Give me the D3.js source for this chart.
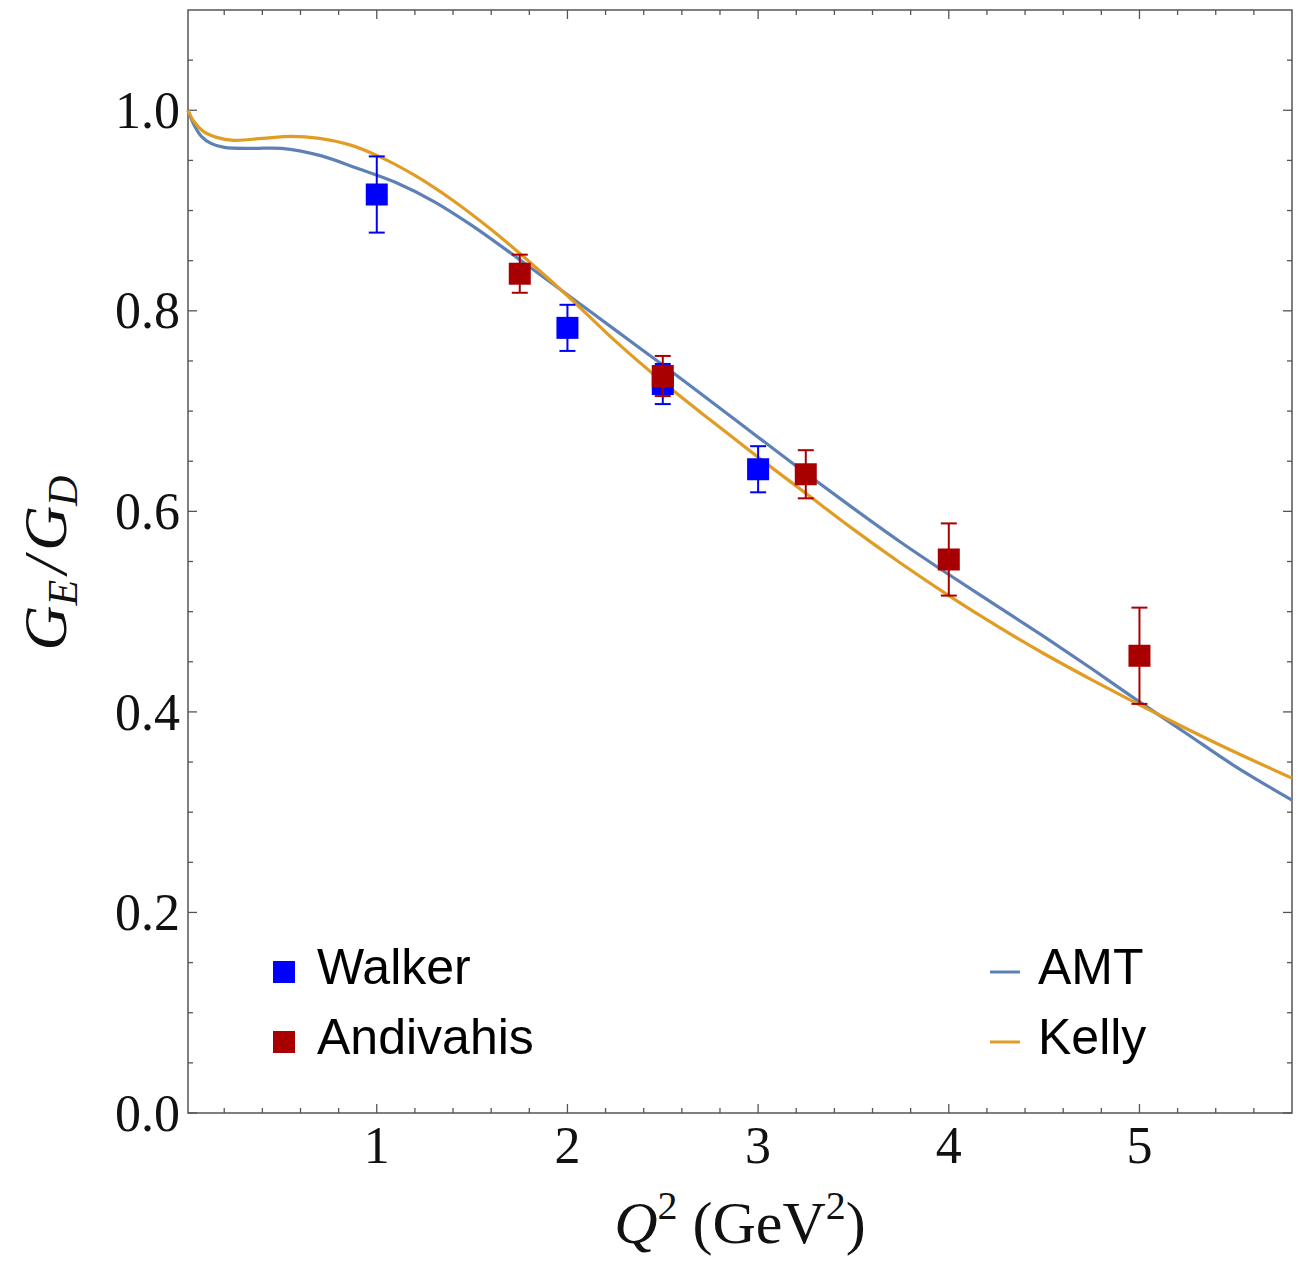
<!DOCTYPE html>
<html>
<head>
<meta charset="utf-8">
<script src="https://cdn.jsdelivr.net/npm/d3@7"></script>
<style>
  html, body { margin: 0; padding: 0; background: #fff; }
  svg { display: block; }
</style>
</head>
<body>
<svg id="chart" width="1302" height="1264"></svg>
<script>
// Proton G_E/G_D ratio: Rosenbluth data sets and two fits

// Walker data
const walkerQ2 = [1.0, 2.0, 2.5, 3.0];
const walkerR = [0.916, 0.783, 0.727, 0.642];
const walkerErr = [0.038, 0.023, 0.020, 0.023];

// Andivahis data
const andivQ2 = [1.75, 2.5, 3.25, 4.0, 5.0];
const andivR = [0.837, 0.735, 0.637, 0.552, 0.456];
const andivErr = [0.019, 0.020, 0.024, 0.036, 0.048];

// AMT fit curve samples
const amtQ2 = [0.01, 0.04, 0.08, 0.13, 0.2, 0.35, 0.5, 0.7, 0.9, 1.1, 1.3, 1.5, 1.75, 2.0, 2.25, 2.5, 2.75, 3.0, 3.25, 3.5, 3.75, 4.0, 4.25, 4.5, 4.75, 5.0, 5.25, 5.5, 5.8];
const amtR = [1.0, 0.986, 0.974, 0.967, 0.963, 0.962, 0.962, 0.955, 0.942, 0.928, 0.909, 0.885, 0.851, 0.816, 0.781, 0.746, 0.710, 0.674, 0.638, 0.603, 0.569, 0.537, 0.506, 0.475, 0.443, 0.410, 0.378, 0.346, 0.312];

// Kelly fit curve samples
const kellyQ2 = [0.01, 0.04, 0.09, 0.16, 0.25, 0.4, 0.55, 0.7, 0.85, 1.0, 1.2, 1.4, 1.6, 1.8, 2.0, 2.25, 2.5, 2.75, 3.0, 3.25, 3.5, 3.75, 4.0, 4.25, 4.5, 4.75, 5.0, 5.25, 5.5, 5.8];
const kellyR = [1.0, 0.989, 0.979, 0.973, 0.970, 0.972, 0.974, 0.972, 0.966, 0.955, 0.935, 0.910, 0.881, 0.849, 0.815, 0.770, 0.729, 0.691, 0.654, 0.618, 0.582, 0.548, 0.516, 0.486, 0.458, 0.432, 0.407, 0.383, 0.360, 0.334];

// Axis ticks
const xMajor = [1, 2, 3, 4, 5];
const xMajorLabels = ["1", "2", "3", "4", "5"];
const yMajor = [0, 0.2, 0.4, 0.6, 0.8, 1.0];
const yMajorLabels = ["0.0", "0.2", "0.4", "0.6", "0.8", "1.0"];

const colWalker = "#0000ff";
const colAndiv = "#a80000";
const colAMT = "#5e81b5";
const colKelly = "#e19c24";

const svg = d3.select("#chart");
const pLeft = 188, pRight = 1292, pTop = 10, pBottom = 1113;

const x = d3.scaleLinear().domain([0.01, 5.8]).range([pLeft, pRight]);
const y = d3.scaleLinear().domain([0, 1.1]).range([pBottom, pTop]);

const serif = "'Liberation Serif', 'Times New Roman', serif";
const sans = "'Liberation Sans', Arial, sans-serif";

// minor tick positions
const xMinor = d3.range(0.2, 5.8, 0.2).map(v => +v.toFixed(2)).filter(v => Math.abs(v - Math.round(v)) > 1e-6);
const yMinor = d3.range(0.05, 1.1, 0.05).map(v => +v.toFixed(2)).filter(v => Math.abs(v / 0.2 - Math.round(v / 0.2)) > 1e-6);

const frameCol = "#555";
const g = svg.append("g");

// tick marks on all four sides, pointing inward
function xTickMarks(vals, len) {
  vals.forEach(v => {
    const px = x(v);
    g.append("line").attr("x1", px).attr("x2", px).attr("y1", pBottom).attr("y2", pBottom - len)
      .attr("stroke", frameCol).attr("stroke-width", 1.3);
    g.append("line").attr("x1", px).attr("x2", px).attr("y1", pTop).attr("y2", pTop + len)
      .attr("stroke", frameCol).attr("stroke-width", 1.3);
  });
}
function yTickMarks(vals, len) {
  vals.forEach(v => {
    const py = y(v);
    g.append("line").attr("x1", pLeft).attr("x2", pLeft + len).attr("y1", py).attr("y2", py)
      .attr("stroke", frameCol).attr("stroke-width", 1.3);
    g.append("line").attr("x1", pRight).attr("x2", pRight - len).attr("y1", py).attr("y2", py)
      .attr("stroke", frameCol).attr("stroke-width", 1.3);
  });
}
xTickMarks(xMajor, 9);
xTickMarks(xMinor, 5);
yTickMarks(yMajor, 9);
yTickMarks(yMinor, 5);

// frame
g.append("rect").attr("x", pLeft).attr("y", pTop).attr("width", pRight - pLeft).attr("height", pBottom - pTop)
  .attr("fill", "none").attr("stroke", frameCol).attr("stroke-width", 1.5);

// tick labels
xMajor.forEach((v, i) => {
  g.append("text").attr("x", x(v)).attr("y", pBottom + 50)
    .attr("text-anchor", "middle").attr("font-family", serif).attr("font-size", 52)
    .attr("fill", "#111").text(xMajorLabels[i]);
});
yMajor.forEach((v, i) => {
  g.append("text").attr("x", pLeft - 8).attr("y", y(v)).attr("dy", "0.34em")
    .attr("text-anchor", "end").attr("font-family", serif).attr("font-size", 52)
    .attr("fill", "#111").text(yMajorLabels[i]);
});

// axis titles
const yt = g.append("text").attr("transform", "translate(66,563) rotate(-90)")
  .attr("text-anchor", "middle").attr("font-family", serif).attr("font-size", 62)
  .attr("font-style", "italic").attr("fill", "#111");
yt.append("tspan").text("G");
yt.append("tspan").attr("font-size", 42).attr("dy", 11).text("E");
yt.append("tspan").attr("dy", -11).attr("dx", 6).text("/");
yt.append("tspan").attr("dx", 6).text("G");
yt.append("tspan").attr("font-size", 42).attr("dy", 11).text("D");

const xt = g.append("text").attr("x", 740).attr("y", 1243)
  .attr("text-anchor", "middle").attr("font-family", serif).attr("font-size", 60).attr("fill", "#111");
xt.append("tspan").attr("font-style", "italic").text("Q");
xt.append("tspan").attr("font-size", 40).attr("dy", -24).text("2");
xt.append("tspan").attr("dy", 24).text(" (GeV");
xt.append("tspan").attr("font-size", 40).attr("dy", -24).text("2");
xt.append("tspan").attr("dy", 24).text(")");

// curves
const plot = svg.append("g");
const line = d3.line().x(d => x(d[0])).y(d => y(d[1])).curve(d3.curveCatmullRom.alpha(0.5));
plot.append("path").datum(amtQ2.map((q, i) => [q, amtR[i]]))
  .attr("d", line).attr("fill", "none").attr("stroke", colAMT).attr("stroke-width", 3.2);
plot.append("path").datum(kellyQ2.map((q, i) => [q, kellyR[i]]))
  .attr("d", line).attr("fill", "none").attr("stroke", colKelly).attr("stroke-width", 3.2);

// data points with error bars
function points(qs, rs, errs, col) {
  const cap = 8, half = 11;
  qs.forEach((q, i) => {
    const px = x(q);
    const lo = y(rs[i] - errs[i]), hi = y(rs[i] + errs[i]);
    plot.append("line").attr("x1", px).attr("x2", px).attr("y1", lo).attr("y2", hi)
      .attr("stroke", col).attr("stroke-width", 2);
    [lo, hi].forEach(py => plot.append("line").attr("x1", px - cap).attr("x2", px + cap)
      .attr("y1", py).attr("y2", py).attr("stroke", col).attr("stroke-width", 2));
    plot.append("rect").attr("x", px - half).attr("y", y(rs[i]) - half)
      .attr("width", 2 * half).attr("height", 2 * half).attr("fill", col);
  });
}
points(walkerQ2, walkerR, walkerErr, colWalker);
points(andivQ2, andivR, andivErr, colAndiv);

// legends
const leg = svg.append("g").attr("font-family", sans).attr("font-size", 50).attr("fill", "#000");
[["Walker", colWalker, 972], ["Andivahis", colAndiv, 1042]].forEach(([t, c, cy]) => {
  leg.append("rect").attr("x", 273).attr("y", cy - 11).attr("width", 22).attr("height", 22).attr("fill", c);
  leg.append("text").attr("x", 317).attr("y", cy + 12).text(t);
});
[["AMT", colAMT, 972], ["Kelly", colKelly, 1042]].forEach(([t, c, cy]) => {
  leg.append("line").attr("x1", 990).attr("x2", 1020).attr("y1", cy).attr("y2", cy)
    .attr("stroke", c).attr("stroke-width", 3);
  leg.append("text").attr("x", 1038).attr("y", cy + 12).text(t);
});
</script>
</body>
</html>
